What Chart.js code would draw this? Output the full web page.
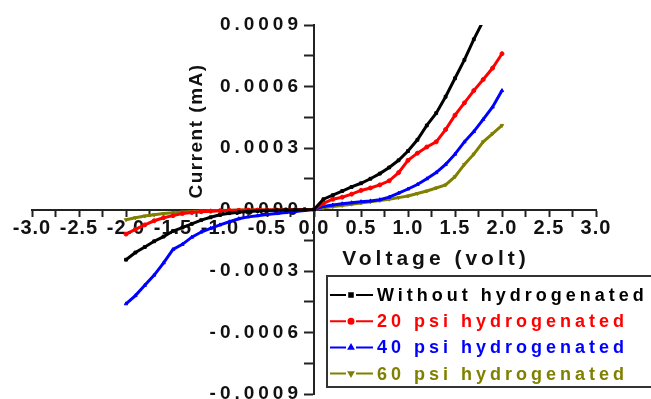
<!DOCTYPE html>
<html>
<head>
<meta charset="utf-8">
<script src="https://cdn.jsdelivr.net/npm/chart.js@4.4.1/dist/chart.umd.min.js"></script>
<style>
  html, body { margin: 0; padding: 0; background: #fff; }
  #wrap { width: 651px; height: 399px; }
</style>
</head>
<body>
<div id="wrap"><canvas id="ivChart" width="651" height="399"></canvas></div>
<script>
// voltage sweep (volt)
const voltages = [
  -2.0, -1.9, -1.8, -1.7, -1.6, -1.5, -1.4, -1.3, -1.2, -1.1, -1.0,
  -0.9, -0.8, -0.7, -0.6, -0.5, -0.4, -0.3, -0.2, -0.1, 0.0,
  0.1, 0.2, 0.3, 0.4, 0.5, 0.6, 0.7, 0.8, 0.9, 1.0,
  1.1, 1.2, 1.3, 1.4, 1.5, 1.6, 1.7, 1.8, 1.9, 2.0
];

// current (mA)
const currentWithout = [
  -0.000245, -0.00021, -0.000183, -0.000155, -0.000132, -0.000105, -0.000088, -0.00007, -0.000052, -0.000038, -0.000026,
  -0.000018, -0.000013, -0.00001, -0.000007, -0.000005, -0.000004, -0.000003, -0.000002, -0.000001, 0,
  0.00005, 0.00007, 0.00009, 0.00011, 0.000128, 0.00015, 0.000175, 0.000205, 0.00024, 0.000285,
  0.00034, 0.00041, 0.00047, 0.00055, 0.00064, 0.00073, 0.00083, 0.00092, 0.001, 0.0011
];
const current20psi = [
  -0.00012, -0.000097, -0.000075, -0.000055, -0.00004, -0.00003, -0.00002, -0.000015, -0.000011, -0.000008, -0.000006,
  -0.000005, -0.000004, -0.000003, -0.000003, -0.000002, -0.000002, -0.000001, -0.000001, 0, 0,
  0.00003, 0.00005, 0.00006, 0.000075, 0.000093, 0.000105, 0.00012, 0.00014, 0.00018, 0.00024,
  0.000275, 0.000305, 0.00033, 0.00039, 0.00046, 0.00052, 0.00058, 0.000634, 0.00069, 0.00076
];
const current40psi = [
  -0.00046, -0.00042, -0.00037, -0.00032, -0.00026, -0.000195, -0.00017, -0.000135, -0.00011, -0.000092, -0.000075,
  -0.00006, -0.000045, -0.000036, -0.00003, -0.000024, -0.00002, -0.000015, -0.00001, -0.000005, 0,
  0.000015, 0.000022, 0.000028, 0.000033, 0.000038, 0.000042, 0.000048, 0.00006, 0.00008, 0.0001,
  0.000122, 0.00015, 0.00018, 0.00022, 0.00027, 0.00033, 0.00038, 0.00044, 0.0005, 0.00058
];
const current60psi = [
  -0.00005, -0.00004, -0.000032, -0.000026, -0.00002, -0.000016, -0.000013, -0.00001, -0.000008, -0.000006, -0.000005,
  -0.000004, -0.000003, -0.000003, -0.000002, -0.000002, -0.000001, -0.000001, -0.000001, 0, 0,
  0.000008, 0.000014, 0.00002, 0.000026, 0.000032, 0.000038, 0.000044, 0.00005, 0.000058, 0.000066,
  0.000078, 0.00009, 0.000105, 0.00012, 0.00016, 0.00022, 0.00027, 0.00033, 0.00037, 0.00041
];

const seriesNames = ['Without hydrogenated', '20 psi hydrogenated', '40 psi hydrogenated', '60 psi hydrogenated'];
const seriesColors = ['#000000', '#ff0000', '#0000ff', '#808000'];
const seriesMarkers = ['rect', 'circle', 'triangle', 'triangle'];
const seriesMarkerRotation = [0, 0, 0, 180];
const seriesCurrents = [currentWithout, current20psi, current40psi, current60psi];

const xTitle = 'Voltage (volt)';
const yTitle = 'Current (mA)';

const FONT = "'Liberation Sans', Arial, sans-serif";

const toPoints = (ys) => voltages.map((v, i) => ({ x: v, y: ys[i] }));

// letter spacing: tick labels look spread out in the original
const spacingPlugin = {
  id: 'spacing',
  beforeDraw(chart) {
    chart.ctx.letterSpacing = '1px';
    const yScale = chart.scales.y;
    if (!yScale.spacedLabels) {
      const drawLabels = yScale.drawLabels;
      yScale.drawLabels = function (area) {
        this.ctx.save();
        this.ctx.letterSpacing = '4px';
        drawLabels.call(this, area);
        this.ctx.restore();
      };
      yScale.spacedLabels = true;
    }
  }
};

const axisTitles = {
  id: 'axisTitles',
  afterDraw(chart) {
    const ctx = chart.ctx;
    ctx.save();
    ctx.fillStyle = '#111';
    ctx.textAlign = 'center';
    ctx.textBaseline = 'middle';
    ctx.font = 'bold 21px ' + FONT;
    ctx.letterSpacing = '4px';
    ctx.fillText(xTitle, 436, 259);
    ctx.translate(197, 131);
    ctx.rotate(-Math.PI / 2);
    ctx.font = 'bold 19px ' + FONT;
    ctx.letterSpacing = '1.5px';
    ctx.fillText(yTitle, 0, 0);
    ctx.restore();
  }
};

const legendBox = {
  id: 'legendBox',
  afterDraw(chart) {
    const ctx = chart.ctx;
    ctx.save();
    ctx.fillStyle = '#fff';
    ctx.fillRect(327, 276, 330, 111);
    ctx.strokeStyle = '#333';
    ctx.lineWidth = 2;
    ctx.strokeRect(327, 276, 330, 111);
    ctx.font = 'bold 18px ' + FONT;
    ctx.letterSpacing = '4px';
    ctx.textBaseline = 'middle';
    chart.data.datasets.forEach((ds, i) => {
      const y = 295 + i * 26.2;
      ctx.strokeStyle = ds.borderColor;
      ctx.fillStyle = ds.borderColor;
      ctx.lineWidth = 2;
      ctx.beginPath();
      ctx.moveTo(330, y); ctx.lineTo(346, y);
      ctx.moveTo(356, y); ctx.lineTo(373, y);
      ctx.stroke();
      Chart.helpers.drawPoint(ctx, {
        pointStyle: ds.pointStyle, rotation: ds.pointRotation, radius: 2.5, borderWidth: 1
      }, 351, y);
      ctx.fillStyle = ds.borderColor;
      ctx.fillText(ds.label, 377, y + 1);
    });
    ctx.restore();
  }
};

const datasets = seriesNames.map((name, i) => ({
  label: name,
  data: toPoints(seriesCurrents[i]),
  borderColor: seriesColors[i],
  backgroundColor: seriesColors[i],
  borderWidth: 3,
  pointRadius: 2,
  pointStyle: seriesMarkers[i],
  pointRotation: seriesMarkerRotation[i],
  pointBorderWidth: 1,
  tension: 0
}));

new Chart(document.getElementById('ivChart'), {
  type: 'line',
  data: { datasets: datasets },
  plugins: [spacingPlugin, axisTitles, legendBox],
  options: {
    responsive: false,
    animation: false,
    layout: { padding: { left: 32, right: 55, top: 25, bottom: 4 } },
    plugins: {
      legend: { display: false },
      tooltip: { enabled: false }
    },
    scales: {
      x: {
        type: 'linear',
        position: 'center',
        min: -3,
        max: 3,
        afterFit: (s) => { s.height = 0; s.paddingLeft = 0; s.paddingRight = 0; },
        ticks: {
          stepSize: 0.25,
          autoSkip: false,
          maxRotation: 0,
          padding: 1,
          color: '#111',
          font: { family: FONT, size: 20, weight: 'bold' },
          callback: (v, i) => (i % 2 === 0 ? Number(v).toFixed(1) : '')
        },
        grid: { drawOnChartArea: false, tickLength: 6, tickColor: '#222', tickWidth: 2 },
        border: { color: '#222', width: 2 }
      },
      y: {
        type: 'linear',
        position: 'center',
        min: -0.0009,
        max: 0.0009,
        afterFit: (s) => { s.width = 0; s.paddingTop = 0; s.paddingBottom = 0; },
        ticks: {
          stepSize: 0.00015,
          autoSkip: false,
          padding: 3,
          color: '#111',
          font: { family: FONT, size: 19, weight: 'bold' },
          callback: (v, i) => {
            if (i % 2 !== 0) return '';
            return Math.abs(v) < 1e-9 ? '0.0000' : Number(v).toFixed(4);
          }
        },
        grid: { drawOnChartArea: false, tickLength: 9, tickColor: '#222', tickWidth: 2 },
        border: { color: '#222', width: 2 }
      }
    }
  }
});
</script>
</body>
</html>
